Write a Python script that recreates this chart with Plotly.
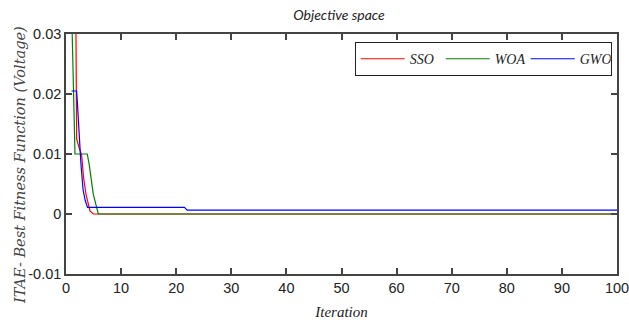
import plotly.graph_objects as go

# Data
sso_x = [1.8, 1.93, 2.4, 2.84, 3.2, 3.62, 4.35, 4.95, 100]
sso_y = [0.031, 0.0125, 0.011, 0.0098, 0.006, 0.0033, 0.0005, 0.0, 0.0]

woa_x = [1.1, 1.45, 1.63, 3.86, 4.2, 4.95, 5.55, 5.86, 100]
woa_y = [0.031, 0.0178, 0.01, 0.01, 0.0083, 0.0033, 0.0008, 0.0, 0.0]

gwo_x = [1.0, 1.93, 2.1, 2.5, 2.7, 3.1, 3.5, 3.9, 21.5, 22.0, 100]
gwo_y = [0.0205, 0.0205, 0.018, 0.011, 0.0085, 0.004, 0.0022, 0.0011, 0.0011, 0.00065, 0.00065]

y_ticks = [-0.01, 0, 0.01, 0.02, 0.03]
y_labels = ["-0.01", "0", "0.01", "0.02", "0.03"]
x_ticks = [0, 10, 20, 30, 40, 50, 60, 70, 80, 90, 100]

serif_it = "Liberation Serif, Times New Roman, serif"
wide_serif = "DejaVu Serif, Liberation Serif, serif"
sans = "Liberation Sans Narrow, Arial Narrow, Liberation Sans, Arial, sans-serif"

fig = go.Figure()
fig.add_trace(go.Scatter(x=sso_x, y=sso_y, mode="lines", name="<i>SSO</i>",
                         line=dict(color="#ff0000", width=1.2)))
fig.add_trace(go.Scatter(x=woa_x, y=woa_y, mode="lines", name="<i>WOA</i>",
                         line=dict(color="#008000", width=1.2)))
fig.add_trace(go.Scatter(x=gwo_x, y=gwo_y, mode="lines", name="<i>GWO</i>",
                         line=dict(color="#0000ff", width=1.2)))

axis_common = dict(showgrid=False, zeroline=False, showline=True, mirror="ticks",
                   linecolor="#444444", linewidth=1.5, ticks="inside", ticklen=6,
                   tickcolor="#444444", tickwidth=1.5, automargin=False,
                   ticklabeloverflow="allow",
                   tickfont=dict(family=sans, size=14.5, color="#222222"))

fig.update_layout(
    width=629, height=322,
    margin=dict(l=66, r=12, t=34, b=48),
    paper_bgcolor="white", plot_bgcolor="white",
    title=dict(text="<i>Objective space</i>", x=339 / 629, xanchor="center",
               y=1 - 15 / 322, yanchor="middle",
               font=dict(family="Lato, Open Sans, sans-serif", size=14, color="#222222")),
    xaxis=dict(range=[0, 100], tickvals=x_ticks,
               title=dict(text="<i>Iteration</i>", standoff=11,
                          font=dict(family=serif_it, size=15, color="#222222")),
               **axis_common),
    yaxis=dict(range=[-0.01, 0.03], tickvals=y_ticks, ticktext=y_labels,
               **axis_common),
    legend=dict(orientation="h", x=(611.7 - 66) / 551, xanchor="right",
                y=0.966, yanchor="top",
                bordercolor="#222222", borderwidth=1, bgcolor="white",
                font=dict(family=serif_it, size=14, color="#222222"),
                itemwidth=44, entrywidth=26),
    showlegend=True,
    annotations=[dict(text="<i>ITAE- Best Fitness Function (Voltage)</i>",
                      textangle=-90, xref="paper", yref="paper",
                      x=(20 - 66) / 551, y=(274 - 165) / 240,
                      xanchor="center", yanchor="middle", showarrow=False,
                      font=dict(family=wide_serif, size=14.5, color="#444444"))],
)

fig.write_html("out.html", config={"displayModeBar": False},
               post_script="document.body.style.margin='0';")
